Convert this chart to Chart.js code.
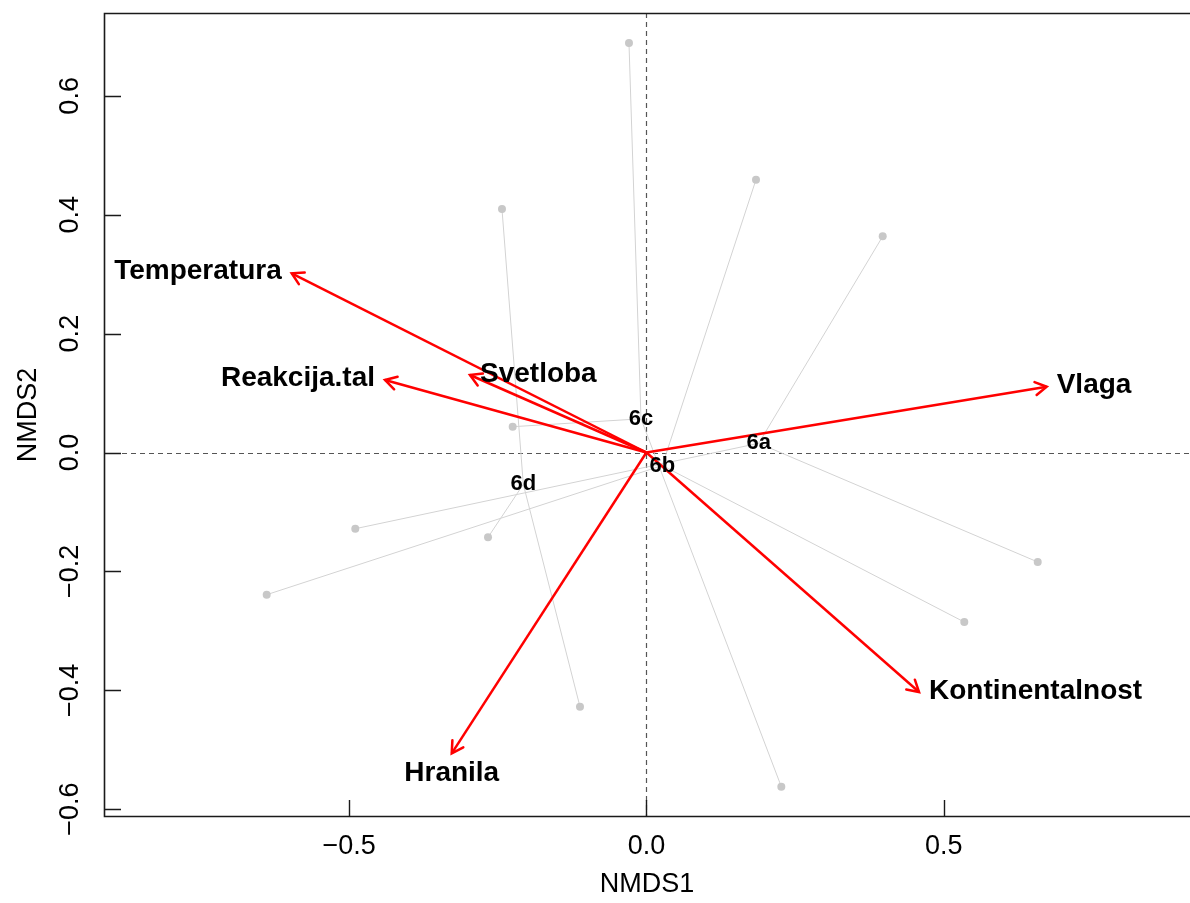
<!DOCTYPE html>
<html>
<head>
<meta charset="utf-8">
<script src="https://cdn.jsdelivr.net/npm/chart.js@4.4.0/dist/chart.umd.min.js"></script>
<style>
  html, body { margin: 0; padding: 0; background: #fff; overflow: hidden; }
  canvas { display: block; }
</style>
</head>
<body>
<canvas id="nmds" width="1190" height="903"></canvas>
<script>
// site scores per group (NMDS1, NMDS2)
const g6aX = [0.3974, 0.6581, -0.4896]
const g6aY = [0.3637, -0.1842, -0.1282]
const g6bX = [0.1843, -0.6386, 0.5346]
const g6bY = [0.4590, -0.2392, -0.2852]
const g6cX = [-0.0293, -0.2249, 0.2269]
const g6cY = [0.6889, 0.0434, -0.5622]
const g6dX = [-0.2429, -0.1117, -0.2664]
const g6dY = [0.4097, -0.4277, -0.1427]

// group centroids (spider centres)
const groupNames = ['6a', '6b', '6c', '6d']
const centroidX = [0.1889, 0.0267, -0.0091, -0.2070]
const centroidY = [0.0155, -0.0219, 0.0567, -0.0535]

// envfit vectors
const envNames = ['Temperatura', 'Reakcija.tal', 'Svetloba', 'Vlaga', 'Kontinentalnost', 'Hranila']
const envX = [-0.5965, -0.4396, -0.2967, 0.6732, 0.4585, -0.3274]
const envY = [0.3015, 0.1220, 0.1304, 0.1107, -0.4029, -0.5061]

const xTicks = [-0.5, 0, 0.5]
const yTicks = [-0.6, -0.4, -0.2, 0, 0.2, 0.4, 0.6]

// where each vector label sits relative to its arrow tip
const envSide = ['left', 'left', 'right', 'right', 'right', 'below']

const FONT = '"Liberation Sans", Arial, sans-serif'
const groupX = [g6aX, g6bX, g6cX, g6dX]
const groupY = [g6aY, g6bY, g6cY, g6dY]

function fmt(v) {
    if (Math.abs(v) < 1e-9) return '0.0'
    return (v < 0 ? '\u2212' : '') + Math.abs(v).toFixed(1)
}

const datasets = []

// red vectors (drawn on top)
envNames.forEach((name, i) => {
    datasets.push({
        label: name,
        data: [{x: 0, y: 0}, {x: envX[i], y: envY[i]}],
        showLine: true,
        borderColor: '#ff0000',
        borderWidth: 2.5,
        pointRadius: 0,
        order: 0,
        isArrow: true
    })
})

// site points
const sitePts = []
groupX.forEach((xs, g) => xs.forEach((x, j) => sitePts.push({x: x, y: groupY[g][j]})))
datasets.push({
    label: 'sites',
    data: sitePts,
    pointRadius: 4,
    pointBackgroundColor: '#c8c8c8',
    pointBorderWidth: 0,
    order: 1
})

// spider legs
groupX.forEach((xs, g) => {
    xs.forEach((x, j) => {
        datasets.push({
            label: 'spider ' + groupNames[g],
            data: [{x: x, y: groupY[g][j]}, {x: centroidX[g], y: centroidY[g]}],
            showLine: true,
            borderColor: '#d3d3d3',
            borderWidth: 1,
            pointRadius: 0,
            order: 2
        })
    })
})

const refLines = {
    id: 'refLines',
    beforeDatasetsDraw(chart) {
        const {ctx, chartArea: a, scales: {x, y}} = chart
        const x0 = Math.round(x.getPixelForValue(0)) + 0.5
        const y0 = Math.round(y.getPixelForValue(0)) + 0.5
        ctx.save()
        ctx.strokeStyle = '#555'
        ctx.lineWidth = 1.2
        ctx.setLineDash([5, 4])
        ctx.beginPath()
        ctx.moveTo(a.left, y0); ctx.lineTo(a.right, y0)
        ctx.moveTo(x0, a.top); ctx.lineTo(x0, a.bottom)
        ctx.stroke()
        ctx.restore()
    }
}

const overlays = {
    id: 'overlays',
    afterDatasetsDraw(chart) {
        const {ctx, scales: {x, y}} = chart
        ctx.save()
        // arrow heads
        ctx.strokeStyle = '#ff0000'
        ctx.lineWidth = 2.5
        ctx.lineCap = 'round'
        chart.data.datasets.forEach((ds, i) => {
            if (!ds.isArrow) return
            const pts = chart.getDatasetMeta(i).data
            const p0 = pts[0], p1 = pts[1]
            const ang = Math.atan2(p1.y - p0.y, p1.x - p0.x)
            const len = 13, spread = Math.PI / 6
            ctx.beginPath()
            ctx.moveTo(p1.x - len * Math.cos(ang - spread), p1.y - len * Math.sin(ang - spread))
            ctx.lineTo(p1.x, p1.y)
            ctx.lineTo(p1.x - len * Math.cos(ang + spread), p1.y - len * Math.sin(ang + spread))
            ctx.stroke()
        })
        // vector labels
        ctx.fillStyle = '#000'
        ctx.font = 'bold 28px ' + FONT
        ctx.textBaseline = 'middle'
        const gap = 10
        envNames.forEach((name, i) => {
            const px = x.getPixelForValue(envX[i])
            const py = y.getPixelForValue(envY[i])
            if (envSide[i] === 'left') {
                ctx.textAlign = 'right'
                ctx.fillText(name, px - gap, py - 2)
            } else if (envSide[i] === 'right') {
                ctx.textAlign = 'left'
                ctx.fillText(name, px + gap, py - 1)
            } else {
                ctx.textAlign = 'center'
                ctx.fillText(name, px, py + gap + 10)
            }
        })
        // group labels at centroids
        ctx.font = 'bold 22px ' + FONT
        ctx.textAlign = 'center'
        groupNames.forEach((name, g) => {
            ctx.fillText(name, x.getPixelForValue(centroidX[g]), y.getPixelForValue(centroidY[g]))
        })
        ctx.restore()
    },
    afterDraw(chart) {
        const {ctx, chartArea: a, scales: {x, y}} = chart
        ctx.save()
        ctx.strokeStyle = '#1a1a1a'
        ctx.lineWidth = 1.6
        ctx.beginPath()
        ctx.moveTo(a.right + 3, a.top + 0.5)
        ctx.lineTo(a.left + 0.5, a.top + 0.5)
        ctx.lineTo(a.left + 0.5, a.bottom - 0.5)
        ctx.lineTo(a.right + 3, a.bottom - 0.5)
        ctx.stroke()
        // inward ticks
        ctx.lineWidth = 1.4
        ctx.beginPath()
        xTicks.forEach(v => {
            const px = Math.round(x.getPixelForValue(v)) + 0.5
            ctx.moveTo(px, a.bottom); ctx.lineTo(px, a.bottom - 17)
        })
        yTicks.forEach(v => {
            const py = Math.round(y.getPixelForValue(v)) + 0.5
            ctx.moveTo(a.left, py); ctx.lineTo(a.left + 17, py)
        })
        ctx.stroke()
        ctx.restore()
    }
}

const tickFont = {family: FONT, size: 27}

new Chart(document.getElementById('nmds').getContext('2d'), {
    type: 'scatter',
    data: {datasets: datasets},
    options: {
        responsive: false,
        animation: false,
        devicePixelRatio: 1,
        layout: {autoPadding: false, padding: {top: 13, right: 0, bottom: 0, left: 0}},
        plugins: {legend: {display: false}, tooltip: {enabled: false}},
        scales: {
            x: {
                type: 'linear',
                min: -0.9122,
                max: 0.9142,
                grid: {display: false, drawTicks: false},
                border: {display: false},
                afterBuildTicks: s => { s.ticks = xTicks.map(v => ({value: v})) },
                afterFit: s => { s.height = 86; s.paddingLeft = 0; s.paddingRight = 0 },
                ticks: {font: tickFont, color: '#000', padding: 13.5, callback: v => fmt(v)},
                title: {display: true, text: 'NMDS1', font: tickFont, color: '#000', padding: {top: 0, bottom: 2}}
            },
            y: {
                type: 'linear',
                min: -0.6132,
                max: 0.7394,
                grid: {display: false, drawTicks: false},
                border: {display: false},
                afterBuildTicks: s => { s.ticks = yTicks.map(v => ({value: v})) },
                afterFit: s => { s.width = 104; s.paddingTop = 0; s.paddingBottom = 0 },
                ticks: {font: tickFont, color: '#000', padding: 7, minRotation: 90, maxRotation: 90,
                        crossAlign: 'center', callback: v => fmt(v)},
                title: {display: true, text: 'NMDS2', font: tickFont, color: '#000', padding: {top: 12, bottom: 0}}
            }
        }
    },
    plugins: [refLines, overlays]
})
</script>
</body>
</html>
